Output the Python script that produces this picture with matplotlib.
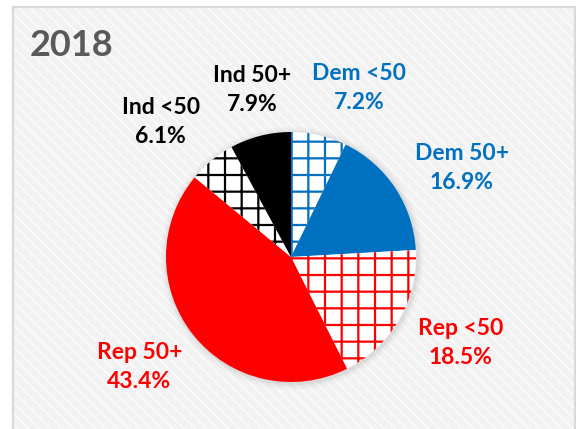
import matplotlib
matplotlib.use("agg")
import matplotlib.pyplot as plt
from matplotlib.patches import Rectangle, Circle
import numpy as np

# data, clockwise from 12 o'clock
groups = ["Dem <50", "Dem 50+", "Rep <50", "Rep 50+", "Ind <50", "Ind 50+"]
shares = [7.2, 16.9, 18.5, 43.4, 6.1, 7.9]
title = "2018"

# where each label sits (angle in degrees, distance in pie radii)
label_angle = [68, 27.5, -27, -144, 134, 103]
label_dist = [1.46, 1.54, 1.52, 1.50, 1.50, 1.37]

blue = "#0070C0"
red = "#FF0000"
colors = [blue, blue, red, red, "black", "black"]
hatched = [True, False, True, False, True, False]

plt.rcParams['font.family'] = ['Lato', 'DejaVu Sans']

fig = plt.figure(figsize=(5.79, 4.29), dpi=100)
fig.patch.set_facecolor("white")

# chart area background: light grey with fine white diagonal stripes
plt.rcParams['hatch.linewidth'] = 0.8
bg = Rectangle((13 / 579, -0.05), (575 - 13) / 579, (429 - 7) / 429 + 0.05,
               transform=fig.transFigure, facecolor="#f2f2f2",
               edgecolor="white", hatch="\\\\\\", linewidth=0, zorder=-3)
fig.patches.append(bg)
border = Rectangle((13 / 579, -0.05), (575 - 13) / 579, (429 - 7) / 429 + 0.05,
                   transform=fig.transFigure, facecolor="none",
                   edgecolor="#d9d9d9", linewidth=1.5, zorder=-2)
fig.patches.append(border)

ax = fig.add_axes([0, 0, 1, 1])
ax.patch.set_alpha(0)

plt.rcParams['hatch.linewidth'] = 1.6
labels = ["%s\n%.1f%%" % (g, s) for g, s in zip(groups, shares)]
wedges, texts = ax.pie(shares, labels=labels, startangle=90, counterclock=False,
                       labeldistance=1.5,
                       textprops=dict(fontsize=16.5, fontweight='bold',
                                      linespacing=1.45))

for w, c, h in zip(wedges, colors, hatched):
    w.set_linewidth(0)
    if h:
        w.set_facecolor("white")
        w.set_edgecolor(c)
        w.set_hatch("+")
    else:
        w.set_facecolor(c)
        w.set_edgecolor(c)
    w.set_zorder(3)

for t, c, a, d in zip(texts, colors, label_angle, label_dist):
    t.set_color(c)
    t.set_horizontalalignment("center")
    t.set_verticalalignment("center")
    t.set_position((d * np.cos(np.radians(a)), d * np.sin(np.radians(a))))

# faint soft shadow behind the pie
for r, a in [(1.05, 0.05), (1.03, 0.07), (1.015, 0.1)]:
    ax.add_patch(Circle((0.01, -0.01), r, color="grey", alpha=a, lw=0, zorder=2))

ax.set_aspect("auto")
ax.set_xlim(-291 / 125, (579 - 291) / 125)
ax.set_ylim(-(429 - 257) / 125, 257 / 125)
ax.axis("off")

fig.text(30 / 579, 1 - 45 / 429, title, fontsize=26, fontweight='bold',
         color="#595959", ha="left", va="center")

fig.savefig("out.png", dpi=100)
